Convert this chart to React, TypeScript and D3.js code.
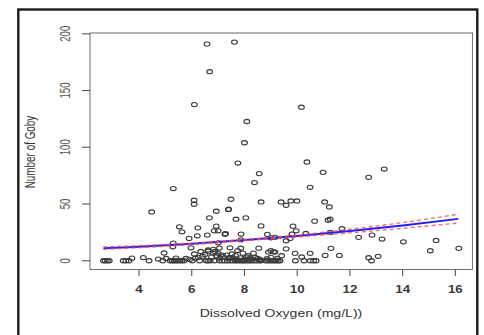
import * as d3 from 'd3';

// Dissolved oxygen (mg/L) of samples that caught no goby
const zeroCatch: number[] = [
  2.65, 2.72, 2.8, 2.87, 3.4, 3.5, 3.62, 4.38, 4.9, 5.18, 5.26, 5.33, 5.4, 5.47, 5.55, 5.62, 5.7,
  6.02, 6.3, 6.55, 6.62, 6.7, 6.85, 7.05, 7.15, 7.25, 7.35, 7.45, 7.55, 7.65, 7.72, 7.8, 7.88,
  7.95, 8.02, 8.1, 8.18, 8.25, 8.35, 8.45, 8.55, 8.62, 8.8, 8.88, 8.97, 9.05, 9.12, 9.2, 9.28,
  9.35, 9.93, 10.26, 10.5, 10.62, 10.72, 12.82,
];

// [oxygen, goby count] pairs
const lowCatch: [number, number][] = [
  [3.73, 2.3], [4.16, 2.8], [4.73, 1.5], [5.03, 2], [4.95, 6.8], [5.4, 2.3], [5.78, 2], [5.92, 1.2],
  [6.14, 2.2], [6.1, 6], [6.25, 3], [6.41, 4], [6.5, 5.5], [6.34, 8.2], [6.62, 8.4], [6.75, 3.5],
  [6.82, 6.7], [6.88, 8.2], [6.95, 4.4], [7.0, 6.5], [7.07, 2.3], [7.12, 5.2], [7.2, 3.8], [7.33, 5],
  [7.4, 1.8], [7.45, 2.9], [7.52, 6], [7.58, 2.3], [7.66, 4.5], [7.7, 1.5], [7.85, 2.5], [7.94, 6.7],
  [8.0, 1.5], [8.08, 3.2], [8.14, 4.4], [8.22, 2.5], [8.3, 1.5], [8.34, 6.7], [8.4, 3], [8.5, 2],
  [8.58, 1.2], [8.91, 7.6], [8.85, 1.8], [9.0, 3], [9.1, 8], [9.16, 7.6], [9.25, 2], [9.41, 4.4],
  [9.92, 6.5], [10.17, 3.3], [10.49, 6.5], [11.06, 4.7], [11.6, 4.7], [12.71, 2.7], [13.07, 3.9],
  [5.28, 12.3], [5.3, 15.5], [5.97, 11.4], [6.62, 9.5], [6.82, 10], [7.01, 15.8], [7.05, 11.2],
  [7.45, 11.4], [7.74, 9], [7.86, 11], [8.54, 11.1], [9.0, 9], [9.58, 10.5], [11.28, 10.9],
  [15.05, 8.8], [16.13, 10.9],
];

const midCatch: [number, number][] = [
  [4.48, 43], [5.53, 29.9], [5.63, 25.5], [5.9, 19.7], [6.09, 53.3], [6.09, 49.8], [6.21, 22],
  [6.23, 29], [6.59, 22.6], [6.67, 37.8], [6.85, 26.4], [6.93, 43.6], [6.93, 30.5], [7.0, 26.4],
  [7.26, 23.4], [7.28, 23.8], [7.39, 45.1], [7.4, 45.4], [7.49, 54.2], [7.68, 36.6], [7.86, 18.4],
  [7.87, 23.5], [8.05, 37.8], [8.63, 51.8], [8.63, 30.7], [8.87, 23.2], [9.0, 20.2], [9.16, 20.6],
  [9.39, 51.8], [9.58, 48.9], [9.58, 17.6], [9.73, 19.7], [9.76, 52.7], [9.8, 23.5], [9.84, 30.5],
  [9.96, 26.4], [9.99, 52.7], [10.33, 24], [10.66, 34.9], [11.04, 51.8], [11.17, 35.7],
  [11.25, 36.6], [11.22, 47.4], [11.25, 24.9], [11.7, 28.2], [12.33, 20.6], [12.84, 22.6],
  [13.22, 19.1], [14.03, 16.7], [15.27, 17.9],
];

const highCatch: [number, number][] = [
  [5.3, 63.6], [6.1, 137.6], [6.58, 190.9], [6.68, 166.6], [7.62, 192.7], [7.75, 86.1], [8.0, 104],
  [8.09, 122.7], [8.38, 68.9], [8.56, 76.8], [10.16, 135.3], [10.37, 87], [10.49, 64.7],
  [10.98, 77.9], [12.71, 73.5], [13.3, 80.8],
];

// fitted curve and its confidence band
const fitX = [2.65, 4, 6, 8, 10, 12, 14, 16.11];
const fitMean = [11.1, 12.4, 14.9, 18.2, 21.8, 26.2, 31.0, 36.9];
const fitUpper = [12.2, 13.3, 15.6, 18.8, 22.6, 27.8, 33.6, 41.0];
const fitLower = [10.1, 11.5, 14.2, 17.6, 21.0, 24.6, 28.6, 33.2];

const xTicks = [4, 6, 8, 10, 12, 14, 16];
const yTicks = [0, 50, 100, 150, 200];

const W = 484;
const H = 335;
const plot = { left: 90, right: 472.5, top: 33, bottom: 269.5 };
const FONT = 'Liberation Sans, Arial, sans-serif';
const SX = 1.38; // the picture is stretched sideways

export default function App() {
  const x = d3.scaleLinear().domain([2.14, 16.65]).range([plot.left, plot.right]);
  const y = d3.scaleLinear().domain([-7.72, 200.7]).range([plot.bottom, plot.top]);

  const points: [number, number][] = zeroCatch
    .map((v) => [v, 0] as [number, number])
    .concat(lowCatch, midCatch, highCatch);

  const line = (vals: number[]) =>
    d3.line<number>()
      .x((_, i) => x(fitX[i]))
      .y((d) => y(d))
      .curve(d3.curveMonotoneX)(vals) || '';

  return (
    <div style={{ position: 'absolute', left: 0, top: 0 }}>
      <svg width={W} height={H} style={{ display: 'block', background: '#fff' }}>
        <rect x={18.3} y={9.5} width={459} height={340} fill="none" stroke="#1c1c1c" strokeWidth={2.4} />

        <rect
          x={plot.left}
          y={plot.top}
          width={plot.right - plot.left}
          height={plot.bottom - plot.top}
          fill="none"
          stroke="#777"
          strokeWidth={1.1}
        />

        {xTicks.map((t) => (
          <g key={'x' + t}>
            <line x1={x(t)} x2={x(t)} y1={plot.bottom} y2={plot.bottom + 6.5} stroke="#555" strokeWidth={1.1} />
            <text
              transform={`translate(${x(t)},292.5) scale(1.25,1)`}
              textAnchor="middle"
              fontFamily={FONT}
              fontSize={10.7}
              fontWeight="bold"
              fill="#3a3a3a"
            >
              {t}
            </text>
          </g>
        ))}

        {yTicks.map((t) => (
          <g key={'y' + t}>
            <line x1={plot.left - 8} x2={plot.left} y1={y(t)} y2={y(t)} stroke="#555" strokeWidth={1.1} />
            <text
              transform={`translate(70,${y(t)}) scale(1.6,1) rotate(-90)`}
              textAnchor="middle"
              fontFamily={FONT}
              fontSize={9.6}
              fill="#555"
            >
              {t}
            </text>
          </g>
        ))}

        <text
          transform={`translate(281,317) scale(${SX},1)`}
          textAnchor="middle"
          fontFamily={FONT}
          fontSize={10.2}
          fill="#333"
        >
          Dissolved Oxygen (mg/L))
        </text>
        <text
          transform={`translate(35,152) scale(1.4,1) rotate(-90)`}
          textAnchor="middle"
          fontFamily={FONT}
          fontSize={9.9}
          fill="#333"
        >
          Number of Goby
        </text>

        {points.map((p, i) => (
          <ellipse
            key={i}
            cx={x(p[0])}
            cy={y(p[1])}
            rx={2.9}
            ry={2.1}
            fill="none"
            stroke="#3a3a3a"
            strokeWidth={1.1}
          />
        ))}

        <path d={line(fitMean)} fill="none" stroke="#1f1fff" strokeWidth={2} />
        <path d={line(fitUpper)} fill="none" stroke="#ff4a4a" strokeWidth={1.3} strokeDasharray="4,3" opacity={0.85} />
        <path d={line(fitLower)} fill="none" stroke="#ff4a4a" strokeWidth={1.3} strokeDasharray="4,3" opacity={0.85} />
      </svg>
    </div>
  );
}
